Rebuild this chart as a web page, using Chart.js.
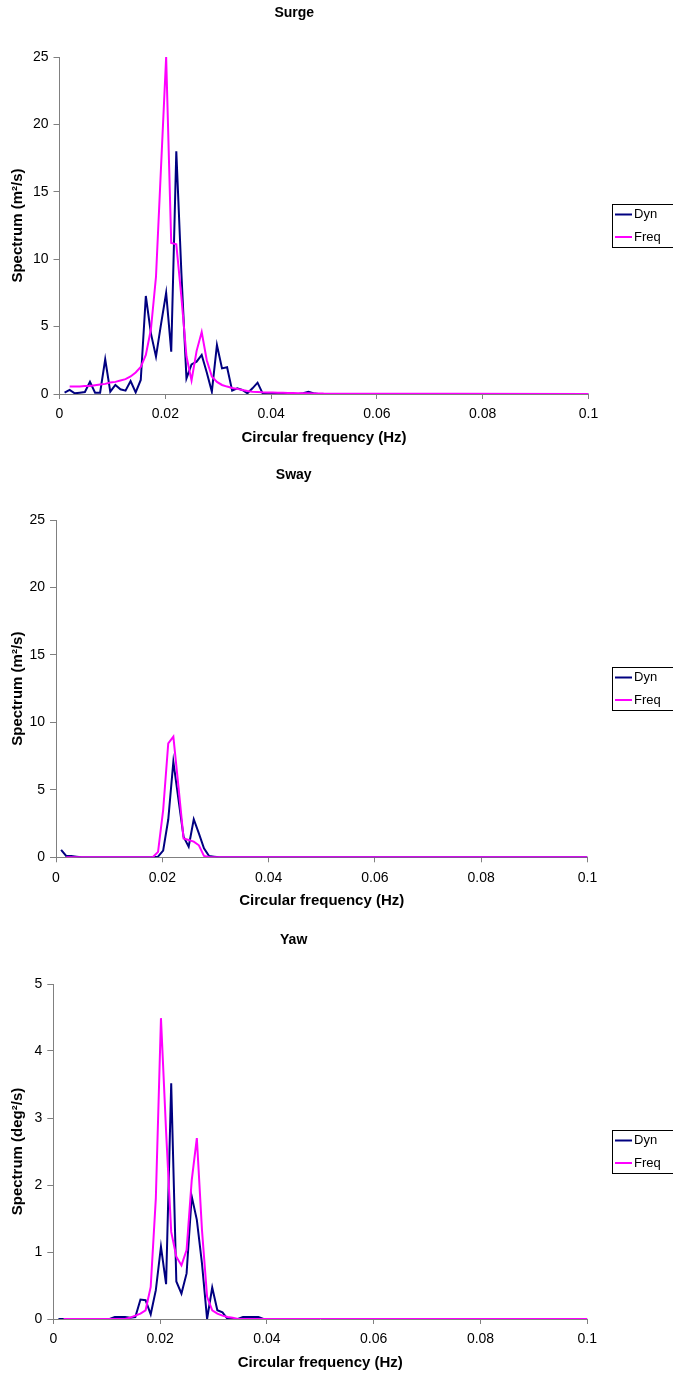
<!DOCTYPE html>
<html>
<head>
<meta charset="utf-8">
<title>Motion spectra</title>
<script src="https://cdn.jsdelivr.net/npm/chart.js@4.4.1/dist/chart.umd.min.js"></script>
<style>
  html, body { margin: 0; padding: 0; background: #fff; }
  canvas { display: block; }
</style>
</head>
<body>
<canvas id="surge" width="673" height="462"></canvas>
<canvas id="sway" width="673" height="463"></canvas>
<canvas id="yaw" width="673" height="449"></canvas>
<script>
// frequency grid (Hz); the spectra are zero beyond 0.05, last point closes the line at 0.1
const freqHz = [
  0.00096, 0.00192, 0.00288, 0.00384, 0.0048, 0.00576, 0.00672, 0.00768, 0.00864, 0.0096,
  0.01056, 0.01152, 0.01248, 0.01344, 0.0144, 0.01536, 0.01632, 0.01728, 0.01824, 0.0192,
  0.02016, 0.02112, 0.02208, 0.02304, 0.024, 0.02496, 0.02592, 0.02688, 0.02784, 0.0288,
  0.02976, 0.03072, 0.03168, 0.03264, 0.0336, 0.03456, 0.03552, 0.03648, 0.03744, 0.0384,
  0.03936, 0.04032, 0.04128, 0.04224, 0.0432, 0.04416, 0.04512, 0.04608, 0.04704, 0.048,
  0.04896, 0.04992, 0.1
];

const surgeDyn = [
  0.1, 0.3, 0.05, 0.1, 0.15, 0.9, 0.1, 0.1, 2.57, 0.17,
  0.67, 0.35, 0.25, 0.96, 0.12, 1.04, 7.27, 4.5, 2.77, 5.2,
  7.5, 3.14, 18.0, 9.0, 1.16, 2.2, 2.4, 2.9, 1.6, 0.17,
  3.63, 1.9, 1.98, 0.25, 0.42, 0.3, 0.05, 0.42, 0.84, 0.05,
  0.02, 0, 0, 0, 0, 0, 0, 0.05, 0.17, 0.05,
  0, 0, 0
];
const surgeFreq = [
  null, 0.55, 0.55, 0.55, 0.6, 0.6, 0.65, 0.7, 0.75, 0.85,
  0.9, 1.0, 1.1, 1.3, 1.6, 2.0, 2.9, 4.8, 8.7, 16.9,
  25.0, 11.2, 11.1, 7.2, 2.8, 1.0, 3.2, 4.6, 2.5, 1.3,
  0.9, 0.67, 0.55, 0.45, 0.38, 0.3, 0.22, 0.17, 0.15, 0.13,
  0.12, 0.11, 0.1, 0.09, 0.08, 0.07, 0.06, 0.05, 0.05, 0.04,
  0.04, 0.03, 0
];

const swayDyn = [
  0.55, 0.1, 0.1, 0.05, 0, 0, 0, 0, 0, 0,
  0, 0, 0, 0, 0, 0, 0, 0, 0, 0.05,
  0.5, 2.8, 7.09, 4.3, 1.53, 0.79, 2.82, 1.78, 0.67, 0.1,
  0.05, 0, 0, 0, 0, 0, 0, 0, 0, 0,
  0, 0, 0, 0, 0, 0, 0, 0, 0, 0,
  0, 0, 0
];
const swayFreq = [
  null, 0, 0, 0, 0, 0, 0, 0, 0, 0,
  0, 0, 0, 0, 0, 0, 0, 0, 0.02, 0.4,
  3.5, 8.45, 8.94, 5.24, 1.4, 1.28, 1.16, 0.89, 0.1, 0.02,
  0, 0, 0, 0, 0, 0, 0, 0, 0, 0,
  0, 0, 0, 0, 0, 0, 0, 0, 0, 0,
  0, 0, 0
];

const yawDyn = [
  0, 0, 0, 0, 0, 0, 0, 0, 0, 0,
  0, 0.03, 0.03, 0.03, 0.02, 0.03, 0.29, 0.28, 0.07, 0.43,
  1.08, 0.52, 3.52, 0.56, 0.38, 0.68, 1.83, 1.48, 0.83, 0,
  0.47, 0.13, 0.1, 0, 0, 0, 0.03, 0.03, 0.03, 0.03,
  0, 0, 0, 0, 0, 0, 0, 0, 0, 0,
  0, 0, 0
];
const yawFreq = [
  null, 0, 0, 0, 0, 0, 0, 0, 0, 0,
  0, 0, 0, 0, 0.02, 0.05, 0.08, 0.13, 0.48, 1.8,
  4.49, 2.8, 1.3, 0.93, 0.8, 1.03, 2.07, 2.7, 1.33, 0.33,
  0.13, 0.08, 0.05, 0.03, 0.02, 0, 0, 0, 0, 0,
  0, 0, 0, 0, 0, 0, 0, 0, 0, 0,
  0, 0, 0
];

const seriesNames = ['Dyn', 'Freq'];
const xTickLabels = ['0', '0.02', '0.04', '0.06', '0.08', '0.1'];
const transTickLabels = ['0', '5', '10', '15', '20', '25'];
const yawTickLabels = ['0', '1', '2', '3', '4', '5'];

const FONT = '"Liberation Sans", Arial, sans-serif';
const DYN_COLOR = '#000080';
const FREQ_COLOR = '#ff00ff';
const AXIS_COLOR = '#808080';

// boxed legend to the right of the plot, centred on the plot height
const boxedLegend = {
  id: 'boxedLegend',
  afterDraw(chart) {
    const { ctx, chartArea } = chart;
    const top = Math.round((chartArea.top + chartArea.bottom) / 2 - 21.5);
    const left = 612;
    ctx.save();
    ctx.strokeStyle = '#000';
    ctx.lineWidth = 1;
    ctx.strokeRect(left + 0.5, top + 0.5, 90, 43);
    ctx.font = '13px ' + FONT;
    ctx.textBaseline = 'middle';
    ctx.textAlign = 'left';
    chart.data.datasets.forEach((ds, i) => {
      const y = top + 10.5 + i * 22.5;
      ctx.strokeStyle = ds.borderColor;
      ctx.lineWidth = 2;
      ctx.beginPath();
      ctx.moveTo(left + 3, y);
      ctx.lineTo(left + 20, y);
      ctx.stroke();
      ctx.fillStyle = '#000';
      ctx.fillText(ds.label, left + 22, y);
    });
    ctx.restore();
  }
};

function points(values) {
  return freqHz.map((f, i) => ({ x: f, y: values[i] }));
}

function spectrumChart(id, title, yTitle, yMax, yStep, yLabels, dyn, freq, box) {
  const h = box.height;
  return new Chart(document.getElementById(id), {
    type: 'line',
    data: {
      datasets: [
        { label: seriesNames[0], data: points(dyn), borderColor: DYN_COLOR, borderWidth: 2,
          pointRadius: 0, tension: 0, order: 1 },
        { label: seriesNames[1], data: points(freq), borderColor: FREQ_COLOR, borderWidth: 2,
          pointRadius: 0, tension: 0, order: 0 }
      ]
    },
    options: {
      responsive: false,
      animation: false,
      events: [],
      layout: { padding: { left: 0, top: 0, bottom: 0, right: 673 - box.right } },
      plugins: {
        legend: { display: false },
        tooltip: { enabled: false },
        title: {
          display: true,
          text: title,
          color: '#000',
          font: { family: FONT, size: 14, weight: 'bold' },
          padding: { top: box.titleY - 8.4, bottom: box.top - (box.titleY - 8.4) - 16.8 }
        }
      },
      scales: {
        x: {
          type: 'linear',
          min: 0,
          max: 0.1,
          afterFit(scale) { scale.height = h - box.bottom; },
          ticks: {
            stepSize: 0.02,
            color: '#000',
            padding: 7,
            maxRotation: 0,
            font: { family: FONT, size: 14 },
            callback: (v, i) => xTickLabels[i]
          },
          grid: { drawOnChartArea: false, color: AXIS_COLOR, tickLength: 5 },
          border: { color: AXIS_COLOR, width: 1 },
          title: {
            display: true,
            text: 'Circular frequency (Hz)',
            color: '#000',
            font: { family: FONT, size: 15, weight: 'bold' },
            padding: { top: 0, bottom: h - box.bottom - 44 - 9 }
          }
        },
        y: {
          type: 'linear',
          min: 0,
          max: yMax,
          afterFit(scale) { scale.width = box.left; },
          ticks: {
            stepSize: yStep,
            color: '#000',
            padding: 5,
            font: { family: FONT, size: 14 },
            callback: (v, i) => yLabels[i]
          },
          grid: { drawOnChartArea: false, color: AXIS_COLOR, tickLength: 6 },
          border: { color: AXIS_COLOR, width: 1 },
          title: {
            display: true,
            text: yTitle,
            color: '#000',
            font: { family: FONT, size: 15, weight: 'bold' },
            padding: { top: 9, bottom: 0 }
          }
        }
      }
    },
    plugins: [boxedLegend]
  });
}

spectrumChart('surge', 'Surge', 'Spectrum (m²/s)', 25, 5, transTickLabels, surgeDyn, surgeFreq,
  { height: 462, left: 59.5, right: 588.5, top: 57, bottom: 394, titleY: 13 });
spectrumChart('sway', 'Sway', 'Spectrum (m²/s)', 25, 5, transTickLabels, swayDyn, swayFreq,
  { height: 463, left: 56, right: 587.5, top: 58, bottom: 395.3, titleY: 13 });
spectrumChart('yaw', 'Yaw', 'Spectrum (deg²/s)', 5, 1, yawTickLabels, yawDyn, yawFreq,
  { height: 449, left: 53.3, right: 587.3, top: 59, bottom: 394, titleY: 15 });
</script>
</body>
</html>
